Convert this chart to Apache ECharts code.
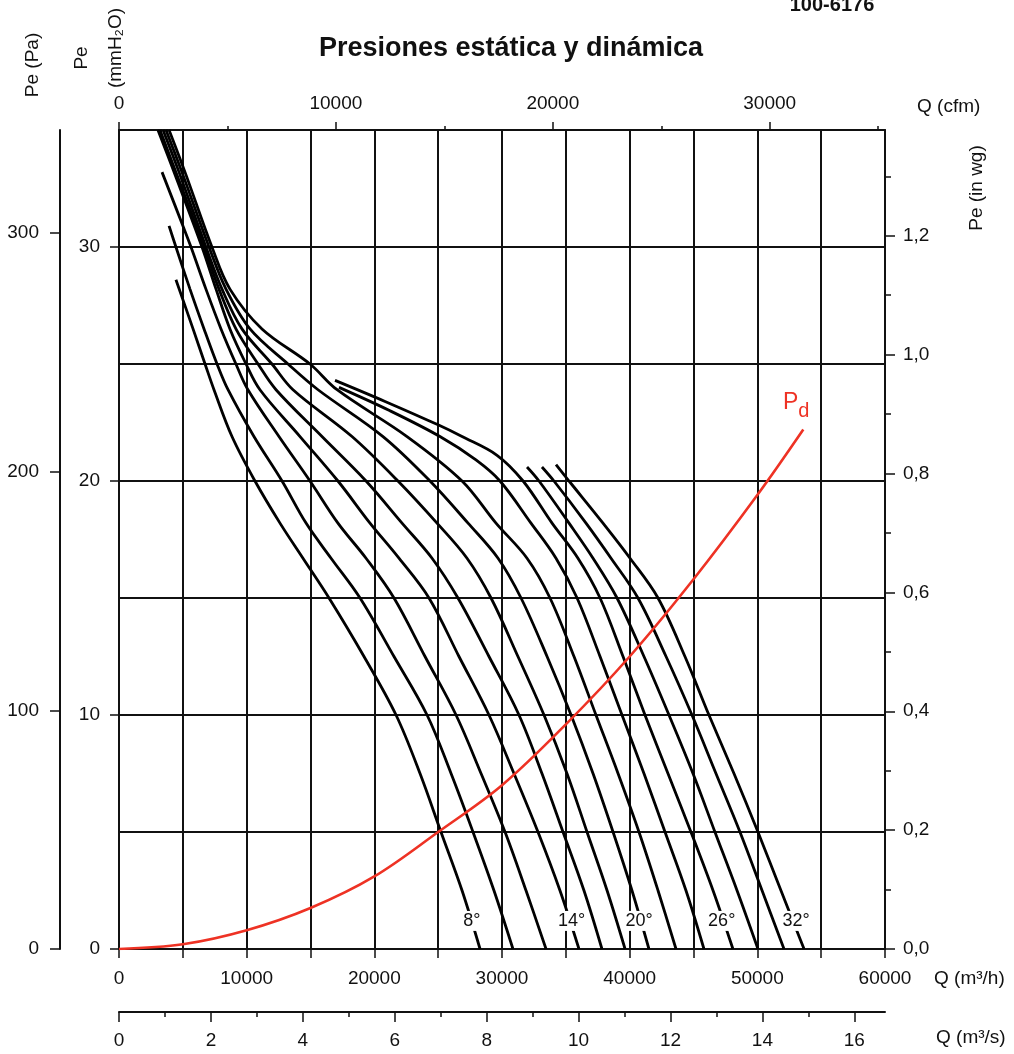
<!DOCTYPE html>
<html lang="es">
<head>
<meta charset="UTF-8">
<title>Presiones estática y dinámica</title>
<script src="https://cdn.jsdelivr.net/npm/echarts@6/dist/echarts.min.js"></script>
<style>html,body{margin:0;padding:0;background:#fff}</style>
</head>
<body>
<div id="main" style="width:1014px;height:1054px;"></div>
<script>
// curvas del ventilador: [Q (m3/h), Pe (mmH2O)]
var ang8  = [[4460,28.6],[5800,26.5],[6740,25.0],[7440,23.9],[8850,21.9],[10650,20.0],[12610,18.2],[14410,16.7],[16450,15.0],[19190,12.5],[21700,10.0],[23580,7.5],[25220,5.0],[26870,2.5],[28280,0]];
var ang10 = [[3920,30.9],[4460,30.0],[5560,28.2],[6660,26.5],[7680,25.0],[8540,23.9],[10570,21.9],[12770,20.0],[14650,18.2],[16610,16.7],[18880,15.0],[21540,12.5],[24130,10.0],[26010,7.5],[27730,5.0],[29370,2.5],[30860,0]];
var ang12 = [[3370,33.2],[5010,30.9],[5640,30.0],[6810,28.2],[7990,26.5],[9160,25.0],[10100,23.9],[12530,21.9],[14960,20.0],[17150,18.2],[19350,16.7],[21540,15.0],[23970,12.5],[26400,10.0],[28360,7.5],[30240,5.0],[31880,2.5],[33450,0]];
var ang14 = [[3050,35.0],[4310,33.2],[6500,30.0],[7600,28.2],[8690,26.5],[9950,25.0],[11040,23.9],[14180,21.9],[17150,20.0],[19660,18.2],[21930,16.7],[24280,15.0],[26630,12.5],[28980,10.0],[30940,7.5],[32820,5.0],[34540,2.5],[36030,0]];
var ang16 = [[3210,35.0],[4460,33.2],[6660,30.0],[7830,28.2],[9160,26.5],[10890,25.0],[12300,23.9],[15900,21.9],[19350,20.0],[22170,18.2],[24520,16.7],[26550,15.0],[28980,12.5],[31330,10.0],[33130,7.5],[34780,5.0],[36420,2.5],[37830,0]];
var ang18 = [[3450,35.0],[4700,33.2],[6810,30.0],[8070,28.2],[9630,26.5],[11980,25.0],[13630,23.9],[18250,21.9],[21850,20.0],[24910,18.2],[27260,16.7],[29140,15.0],[31250,12.5],[33290,10.0],[35090,7.5],[36660,5.0],[38230,2.5],[39640,0]];
var ang20 = [[3680,35.0],[4930,33.2],[7050,30.0],[8380,28.2],[10260,26.5],[13240,25.0],[15590,23.9],[20680,21.9],[24360,20.0],[27340,18.2],[29690,16.7],[31490,15.0],[33530,12.5],[35410,10.0],[37130,7.5],[38700,5.0],[40180,2.5],[41510,0]];
var ang22 = [[3920,35.0],[5170,33.2],[7280,30.0],[8690,28.2],[11200,26.5],[14960,25.0],[17080,23.9],[22560,21.9],[26870,20.0],[29530,18.2],[31960,16.7],[33760,15.0],[35640,12.5],[37360,10.0],[39090,7.5],[40730,5.0],[42220,2.5],[43630,0]];
var ang24 = [[17230,24.0],[21230,23.0],[25140,21.9],[27960,20.9],[29840,20.0],[32270,18.2],[34230,16.7],[35880,15.0],[37680,12.5],[39400,10.0],[41120,7.5],[42770,5.0],[44410,2.5],[45820,0]];
var ang26 = [[16920,24.3],[20840,23.4],[24990,22.4],[26870,21.9],[29610,21.1],[31650,20.0],[33920,18.2],[35950,16.7],[37680,15.0],[39480,12.5],[41200,10.0],[43000,7.5],[44800,5.0],[46530,2.5],[48090,0]];
var ang28 = [[31960,20.6],[32900,20.0],[35250,18.2],[37130,16.7],[39010,15.0],[41120,12.5],[43080,10.0],[44960,7.5],[46680,5.0],[48410,2.5],[50050,0]];
var ang30 = [[33130,20.6],[34070,20.0],[36580,18.2],[38540,16.7],[40650,15.0],[42850,12.5],[44880,10.0],[46760,7.5],[48640,5.0],[50370,2.5],[52090,0]];
var ang32 = [[34230,20.7],[35250,20.0],[37910,18.2],[40030,16.7],[42220,15.0],[44330,12.5],[46210,10.0],[48170,7.5],[50050,5.0],[51850,2.5],[53660,0]];
var curvas = [ang8, ang10, ang12, ang14, ang16, ang18, ang20, ang22, ang24, ang26, ang28, ang30, ang32];
var angulos = ['8°','10°','12°','14°','16°','18°','20°','22°','24°','26°','28°','30°','32°'];

// presión dinámica Pd
var pd = [[0,0],[5000,0.2],[10000,0.8],[15000,1.75],[20000,3.1],[25000,5.0],[30000,7.0],[35000,9.6],[40000,12.5],[45000,15.8],[50000,19.4],[53600,22.2]];

// rótulos de ángulo sobre las curvas
var rotulos = ['8°','14°','20°','26°','32°'];
var rotuloQ = [27630,35460,40730,47210,53030];
var rotuloPe = [1.2,1.2,1.2,1.2,1.2];

// marcas de los ejes
var ticksCfm = [0,10000,20000,30000];
var ticksCfmMenor = [5000,15000,25000,35000];
var ticksM3s = [0,2,4,6,8,10,12,14,16];
var ticksM3sMenor = [1,3,5,7,9,11,13,15];
var ticksPa = [0,100,200,300];
var ticksInwg = [0,0.2,0.4,0.6,0.8,1.0,1.2];
var ticksInwgMenor = [0.1,0.3,0.5,0.7,0.9,1.1,1.3];

var QMAX = 60000, PEMAX = 35;
var fuente = 'Liberation Sans, Arial, sans-serif';
var negro = '#111';
var rojo = '#ee3224';

var myChart = echarts.init(document.getElementById('main'));

var lbl = {fontFamily: fuente, fontSize: 19, color: negro};
function entero(v) { return String(v); }

var series = curvas.map(function (c, i) {
    var s = {
        name: angulos[i],
        type: 'line',
        data: c,
        showSymbol: false,
        smooth: 0.35,
        silent: true,
        lineStyle: {color: '#000', width: 2.8}
    };
    var k = rotulos.indexOf(angulos[i]);
    if (k >= 0) {
        s.markPoint = {
            symbol: 'rect', symbolSize: 1, silent: true,
            itemStyle: {color: 'rgba(0,0,0,0)'},
            label: {show: true, position: 'inside', formatter: rotulos[k],
                fontFamily: fuente, fontSize: 18, color: negro,
                backgroundColor: '#fff', padding: [1, 1]},
            data: [{coord: [rotuloQ[k], rotuloPe[k]]}]
        };
    }
    return s;
});
series.push({
    name: 'Pd', type: 'line', data: pd, showSymbol: false, smooth: 0.35, silent: true,
    lineStyle: {color: rojo, width: 2.6}
});

var option = {
    animation: false,
    textStyle: {fontFamily: fuente},
    grid: {left: 119, top: 130, width: 766, height: 819, containLabel: false},
    xAxis: [
        { // Q m3/h
            type: 'value', min: 0, max: QMAX, interval: 5000, position: 'bottom',
            axisLine: {onZero: false, lineStyle: {color: negro, width: 2}},
            axisTick: {length: 9, lineStyle: {color: negro, width: 1.5}},
            axisLabel: Object.assign({margin: 20, formatter: function (v) { return v % 10000 === 0 ? String(v) : ''; }}, lbl),
            splitLine: {show: true, lineStyle: {color: negro, width: 2}}
        },
        { // Q cfm
            type: 'value', min: 0, max: QMAX / 1.699011, position: 'top',
            axisLine: {onZero: false, lineStyle: {color: negro, width: 2}},
            axisTick: {customValues: ticksCfm, length: 8, lineStyle: {color: negro, width: 1.5}},
            axisLabel: Object.assign({customValues: ticksCfm, margin: 17, formatter: entero}, lbl),
            splitLine: {show: false}
        },
        {
            type: 'value', min: 0, max: QMAX / 1.699011, position: 'top',
            axisLine: {show: false, onZero: false},
            axisTick: {customValues: ticksCfmMenor, length: 4, lineStyle: {color: negro, width: 1.5}},
            axisLabel: {show: false}, splitLine: {show: false}
        },
        { // Q m3/s
            type: 'value', min: 0, max: QMAX / 3600, position: 'bottom', offset: 63,
            axisLine: {onZero: false, lineStyle: {color: negro, width: 2}},
            axisTick: {customValues: ticksM3s, length: 10, lineStyle: {color: negro, width: 1.5}},
            axisLabel: Object.assign({customValues: ticksM3s, margin: 19, formatter: entero}, lbl),
            splitLine: {show: false}
        },
        {
            type: 'value', min: 0, max: QMAX / 3600, position: 'bottom', offset: 63,
            axisLine: {show: false, onZero: false},
            axisTick: {customValues: ticksM3sMenor, length: 5, lineStyle: {color: negro, width: 1.5}},
            axisLabel: {show: false}, splitLine: {show: false}
        }
    ],
    yAxis: [
        { // Pe mmH2O
            type: 'value', min: 0, max: PEMAX, interval: 10, position: 'left',
            axisLine: {onZero: false, lineStyle: {color: negro, width: 2}},
            axisTick: {length: 9, lineStyle: {color: negro, width: 1.5}},
            axisLabel: Object.assign({margin: 19, showMaxLabel: false}, lbl),
            splitLine: {show: true, lineStyle: {color: negro, width: 2}},
            minorTick: {show: false, splitNumber: 2},
            minorSplitLine: {show: true, lineStyle: {color: negro, width: 2}}
        },
        { // Pe Pa
            type: 'value', min: 0, max: PEMAX * 9.80665, position: 'left', offset: 59,
            axisLine: {onZero: false, lineStyle: {color: negro, width: 2}},
            axisTick: {customValues: ticksPa, length: 10, lineStyle: {color: negro, width: 1.5}},
            axisLabel: Object.assign({customValues: ticksPa, margin: 21}, lbl),
            splitLine: {show: false}
        },
        { // Pe in wg
            type: 'value', min: 0, max: PEMAX / 25.4, position: 'right',
            axisLine: {onZero: false, lineStyle: {color: negro, width: 2}},
            axisTick: {customValues: ticksInwg, length: 10, lineStyle: {color: negro, width: 1.5}},
            axisLabel: Object.assign({customValues: ticksInwg, margin: 18,
                formatter: function (v) { return v.toFixed(1).replace('.', ','); }}, lbl),
            splitLine: {show: false}
        },
        {
            type: 'value', min: 0, max: PEMAX / 25.4, position: 'right',
            axisLine: {show: false, onZero: false},
            axisTick: {customValues: ticksInwgMenor, length: 6, lineStyle: {color: negro, width: 1.5}},
            axisLabel: {show: false}, splitLine: {show: false}
        }
    ],
    graphic: [
        {type: 'text', x: 511, y: 49, style: {text: 'Presiones estática y dinámica', fontFamily: fuente, fontSize: 27, fontWeight: 'bold', fill: negro, align: 'center', verticalAlign: 'middle'}},
        {type: 'text', x: 832, y: 5, style: {text: '100-6176', fontFamily: fuente, fontSize: 20, fontWeight: 'bold', fill: negro, align: 'center', verticalAlign: 'middle'}},
        {type: 'text', x: 33, y: 65, rotation: Math.PI / 2, style: {text: 'Pe (Pa)', fontFamily: fuente, fontSize: 19, fill: negro, align: 'center', verticalAlign: 'middle'}},
        {type: 'text', x: 82, y: 58, rotation: Math.PI / 2, style: {text: 'Pe', fontFamily: fuente, fontSize: 19, fill: negro, align: 'center', verticalAlign: 'middle'}},
        {type: 'text', x: 116, y: 48, rotation: Math.PI / 2, style: {text: '(mmH₂O)', fontFamily: fuente, fontSize: 19, fill: negro, align: 'center', verticalAlign: 'middle'}},
        {type: 'text', x: 977, y: 188, rotation: Math.PI / 2, style: {text: 'Pe (in wg)', fontFamily: fuente, fontSize: 19, fill: negro, align: 'center', verticalAlign: 'middle'}},
        {type: 'text', x: 917, y: 107, style: {text: 'Q (cfm)', fontFamily: fuente, fontSize: 19, fill: negro, align: 'left', verticalAlign: 'middle'}},
        {type: 'text', x: 934, y: 979, style: {text: 'Q (m³/h)', fontFamily: fuente, fontSize: 19, fill: negro, align: 'left', verticalAlign: 'middle'}},
        {type: 'text', x: 936, y: 1038, style: {text: 'Q (m³/s)', fontFamily: fuente, fontSize: 19, fill: negro, align: 'left', verticalAlign: 'middle'}},
        {type: 'text', x: 783, y: 391, style: {text: '{p|P}{d|d}', fill: rojo, rich: {
            p: {fontFamily: fuente, fontSize: 23, color: rojo, lineHeight: 30, verticalAlign: 'top'},
            d: {fontFamily: fuente, fontSize: 20, color: rojo, lineHeight: 30, verticalAlign: 'bottom'}}}}
    ],
    series: series
};

myChart.setOption(option);
</script>
</body>
</html>
